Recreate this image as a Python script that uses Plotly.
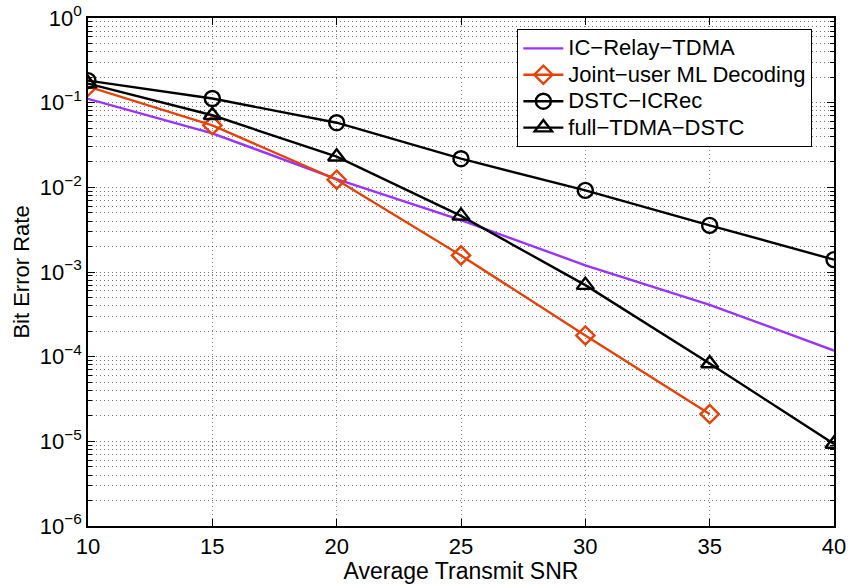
import plotly.graph_objects as go

# Average transmit SNR (dB)
snr = [10, 15, 20, 25, 30, 35, 40]
snr_joint = [10, 15, 20, 25, 30, 35]

# Bit error rate per scheme
ber_ic_relay_tdma = [0.111, 0.0435, 0.0125, 0.0041, 0.0012, 0.00041, 0.000118]
ber_joint_ml = [0.155, 0.054, 0.0123, 0.00157, 0.000178, 0.000021]
ber_dstc_icrec = [0.182, 0.112, 0.058, 0.0218, 0.0092, 0.00355, 0.0014]
ber_full_tdma_dstc = [0.168, 0.071, 0.023, 0.0046, 0.0007, 0.000083, 0.0000093]

series_names = ["IC\u2212Relay\u2212TDMA", "Joint\u2212user ML Decoding",
                "DSTC\u2212ICRec", "full\u2212TDMA\u2212DSTC"]

y_decades = [-6, -5, -4, -3, -2, -1, 0]
y_ticktext = ["10<sup>%s</sup>" % (str(d).replace("-", "\u2212")) for d in y_decades]
x_ticks = [10, 15, 20, 25, 30, 35, 40]

PURPLE = "#9933FF"
ORANGE = "#E5420A"
FONT = "Liberation Sans"
LW = 2.4


def legend_label(name):
    # larger glyphs than the legend's nominal size keep the rows compact
    return '<span style="font-size:22px">%s</span>' % name


fig = go.Figure()
fig.add_trace(go.Scatter(x=snr, y=ber_ic_relay_tdma, name=legend_label(series_names[0]),
                         mode="lines", line=dict(color=PURPLE, width=LW)))
fig.add_trace(go.Scatter(x=snr_joint, y=ber_joint_ml, name=legend_label(series_names[1]),
                         mode="lines+markers", line=dict(color=ORANGE, width=LW),
                         marker=dict(symbol="diamond-open", size=14, color=ORANGE,
                                     line=dict(color=ORANGE, width=LW))))
fig.add_trace(go.Scatter(x=snr, y=ber_dstc_icrec, name=legend_label(series_names[2]),
                         mode="lines+markers", line=dict(color="black", width=LW),
                         marker=dict(symbol="circle-open", size=15, color="black",
                                     line=dict(color="black", width=LW))))
fig.add_trace(go.Scatter(x=snr, y=ber_full_tdma_dstc, name=legend_label(series_names[3]),
                         mode="lines+markers", line=dict(color="black", width=LW),
                         marker=dict(symbol="triangle-up-open", size=15, color="black",
                                     line=dict(color="black", width=LW))))

minor_y = [k * 10.0 ** d for d in range(-6, 0) for k in range(2, 10)]
grid_dash = "1px,3px"

fig.update_xaxes(
    range=[10, 40], tickvals=x_ticks, ticktext=[str(v) for v in x_ticks],
    automargin=False,
    showline=True, linecolor="black", linewidth=1.5, mirror="allticks",
    ticks="inside", ticklen=7, tickcolor="black", tickwidth=1,
    showgrid=True, gridcolor="rgba(0,0,0,0.45)", griddash=grid_dash, gridwidth=1,
    zeroline=False,
    tickfont=dict(family=FONT, size=22, color="black"),
    title=dict(text="Average Transmit SNR", standoff=16,
               font=dict(family=FONT, size=23, color="black")),
)
fig.update_yaxes(
    type="log", range=[-6, 0],
    tickvals=[10.0 ** d for d in y_decades], ticktext=y_ticktext,
    automargin=False,
    showline=True, linecolor="black", linewidth=1.5, mirror="allticks",
    ticks="inside", ticklen=7, tickcolor="black", tickwidth=1,
    showgrid=True, gridcolor="rgba(0,0,0,0.55)", griddash=grid_dash, gridwidth=1,
    minor=dict(tickvals=minor_y, ticks="inside", ticklen=4, tickcolor="black",
               showgrid=True, gridcolor="rgba(0,0,0,0.55)", griddash=grid_dash,
               gridwidth=1),
    zeroline=False,
    tickfont=dict(family=FONT, size=22, color="black"),
    title=dict(text="Bit Error Rate", standoff=4,
               font=dict(family=FONT, size=22, color="black")),
)

fig.update_layout(
    width=848, height=584,
    margin=dict(l=88, r=14, t=18, b=58),
    paper_bgcolor="white", plot_bgcolor="white",
    font=dict(family=FONT, size=22, color="black"),
    showlegend=True,
    legend=dict(x=0.971, y=0.978, xanchor="right", yanchor="top",
                bgcolor="white", bordercolor="black", borderwidth=1,
                itemwidth=40, tracegroupgap=0,
                font=dict(family=FONT, size=18, color="black")),
)

fig.write_html("out.html")
